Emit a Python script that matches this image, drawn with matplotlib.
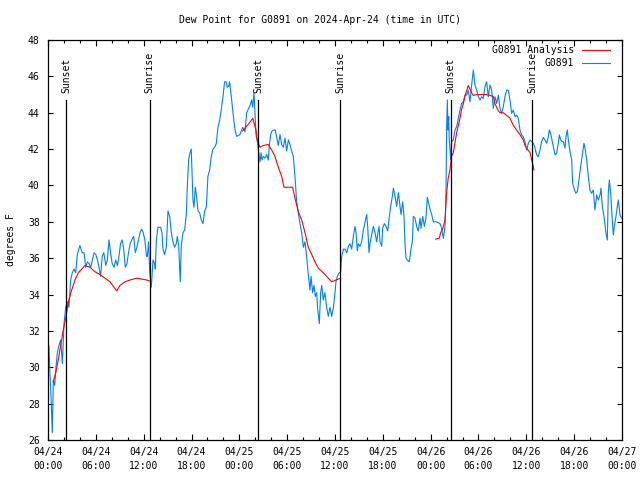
import matplotlib
matplotlib.use("Agg")
import matplotlib.pyplot as plt
import matplotlib.transforms as mtransforms

# hours since 2024-04-24 00:00 UTC
obs_hours = [0.0, 0.12, 0.25, 0.42, 0.54, 0.67, 0.84, 1.0, 1.17, 1.38, 1.59, 1.80, 2.01, 2.22, 2.43, 2.63,
             2.84, 3.05, 3.26, 3.47, 3.68, 4.0, 4.3, 4.52, 4.73, 4.94, 5.15, 5.36, 5.57, 5.78, 6.0, 6.2,
             6.4, 6.6, 6.8, 7.0, 7.25, 7.45, 7.65, 7.85, 8.05, 8.3, 8.5, 8.7, 8.9, 9.1, 9.3, 9.5, 9.7,
             9.9, 10.1, 10.3, 10.5, 10.75, 10.95, 11.15, 11.35, 11.55, 11.75, 11.95, 12.15, 12.35, 12.46,
             12.62, 12.75, 12.96, 13.17, 13.38, 13.46, 13.59, 13.79, 14.13, 14.3, 14.42, 14.63, 14.84,
             15.05, 15.26, 15.47, 15.68, 15.88, 16.09, 16.22, 16.39, 16.51, 16.59, 16.72, 16.93, 17.14,
             17.35, 17.47, 17.64, 17.81, 17.97, 18.06, 18.18, 18.31, 18.48, 18.64, 18.81, 19.02, 19.23,
             19.44, 19.65, 19.86, 20.06, 20.27, 20.48, 20.69, 20.9, 21.11, 21.32, 21.53, 21.74, 21.95,
             22.15, 22.36, 22.49, 22.66, 22.78, 23.04, 23.25, 23.46, 23.67, 24.08, 24.42, 24.71, 24.92,
             25.13, 25.34, 25.55, 25.67, 25.84, 25.97, 26.09, 26.26, 26.38, 26.59, 26.72, 26.84, 27.01,
             27.22, 27.43, 27.64, 27.76, 27.93, 28.1, 28.35, 28.51, 28.68, 28.89, 29.1, 29.31, 29.52,
             29.73, 29.94, 30.15, 30.35, 30.56, 30.77, 30.98, 31.19, 31.4, 31.61, 31.82, 32.03, 32.24,
             32.44, 32.65, 32.86, 32.99, 33.2, 33.36, 33.53, 33.7, 33.82, 34.03, 34.2, 34.33, 34.53,
             34.74, 34.95, 35.16, 35.37, 35.58, 35.79, 36.0, 36.12, 36.29, 36.54, 36.71, 36.84, 37.05,
             37.26, 37.47, 37.68, 37.88, 38.09, 38.3, 38.51, 38.64, 38.8, 38.93, 39.14, 39.35, 39.56,
             39.77, 39.97, 40.1, 40.27, 40.39, 40.6, 40.81, 41.02, 41.23, 41.35, 41.52, 41.65, 41.86,
             41.98, 42.19, 42.4, 42.61, 42.82, 42.98, 43.19, 43.32, 43.53, 43.74, 43.95, 44.15, 44.28,
             44.49, 44.66, 44.78, 44.91, 45.07, 45.32, 45.53, 45.7, 45.83, 46.04, 46.24, 46.45, 46.66,
             46.79, 47.0, 47.21, 47.41, 47.58, 47.75, 47.92, 48.13, 48.33, 48.54, 48.75, 49.17, 49.38,
             49.59, 49.8, 49.92, 50.0, 50.09, 50.17, 50.26, 50.34, 50.51, 50.63, 50.84, 51.05, 51.26,
             51.47, 51.68, 51.89, 52.1, 52.3, 52.51, 52.72, 52.93, 53.14, 53.35, 53.56, 53.77, 53.98,
             54.19, 54.4, 54.6, 54.81, 55.02, 55.23, 55.44, 55.65, 55.86, 56.07, 56.28, 56.49, 56.7,
             56.9, 57.11, 57.32, 57.53, 57.74, 57.95, 58.16, 58.37, 58.58, 58.78, 58.99, 59.2, 59.41,
             59.62, 59.83, 60.04, 60.25, 60.46, 60.67, 60.88, 61.09, 61.3, 61.5, 61.71, 61.92, 62.13,
             62.34, 62.55, 62.76, 62.88, 63.05, 63.18, 63.39, 63.6, 63.8, 64.01, 64.14, 64.31, 64.51,
             64.64, 64.85, 64.97, 65.14, 65.27, 65.48, 65.69, 65.81, 65.98, 66.19, 66.4, 66.6, 66.81,
             67.02, 67.23, 67.4, 67.57, 67.78, 67.98, 68.19, 68.4, 68.61, 68.82, 69.03, 69.24, 69.36,
             69.53, 69.74, 69.87, 69.99, 70.16, 70.28, 70.41, 70.58, 70.74, 70.91, 71.04, 71.24, 71.41,
             71.54, 71.75, 71.95]
obs_dewpt = [29.6, 31.2, 29.6, 27.9, 26.4, 29.3, 29.0, 30.0, 30.8, 31.2, 31.5, 30.2, 32.4, 33.3, 33.6, 33.3,
             34.8, 35.2, 35.4, 35.2, 36.2, 36.7, 36.3, 36.3, 35.5, 35.8, 35.7, 35.5, 35.9, 36.3, 36.2, 35.9,
             35.5, 35.0, 36.1, 36.3, 35.6, 35.9, 37.0, 36.3, 35.7, 35.5, 35.9, 35.6, 36.1, 36.8, 37.0, 36.5, 35.5,
             35.7, 36.3, 36.8, 37.0, 37.2, 36.3, 36.6, 37.0, 37.4, 37.6, 37.4, 37.0, 36.1, 36.1,
             36.9, 35.3, 34.4, 35.9, 35.7, 35.4, 37.0, 37.7, 37.7, 37.4, 36.5, 36.2, 36.6,
             38.6, 38.3, 37.4, 36.9, 36.6, 36.8, 37.2, 36.7, 35.5, 34.7, 36.7, 37.4, 37.55,
             38.4, 39.9, 41.4, 41.8, 42.0, 40.85, 39.2, 38.8, 39.9, 39.4, 38.6, 38.5, 38.1,
             37.9, 38.6, 38.8, 40.5, 40.85, 41.6, 42.0, 42.1, 42.3, 43.2, 43.6, 44.2, 44.9,
             45.7, 45.7, 45.4, 45.45, 45.7, 44.7, 43.8, 43.05, 42.7, 42.8, 43.2, 42.95, 44.0,
             44.2, 44.4, 44.7, 44.3, 45.1, 43.9, 42.8, 42.4, 42.0, 41.3, 41.8, 41.4, 41.6,
             41.5, 41.7, 41.4, 42.2, 42.8, 43.0, 43.05, 43.05, 42.65, 42.2, 42.8, 42.25, 42.1,
             42.6, 41.9, 42.5, 42.25, 41.9, 41.6, 40.5, 39.1, 38.5, 37.9, 37.4, 36.6, 36.9,
             36.1, 35.1, 34.25, 35.0, 34.1, 34.5, 33.9, 34.1, 33.25, 32.4, 34.1, 34.5, 33.7,
             34.1, 33.3, 32.8, 33.3, 32.8, 33.25, 34.1, 34.7, 35.0, 35.2, 35.25, 36.1, 36.5,
             36.5, 36.3, 36.65, 36.8, 36.5, 37.2, 37.75, 37.4, 36.4, 36.8, 36.65, 36.9, 37.55,
             38.0, 38.4, 37.75, 36.3, 36.8, 37.3, 37.75, 37.4, 36.9, 37.3, 37.75, 36.9, 36.65,
             37.65, 37.9, 37.75, 37.5, 38.3, 38.85, 39.4, 39.85, 39.4, 38.85, 39.6, 38.9, 38.4,
             39.1, 38.3, 36.8, 36.0, 35.9, 35.8, 36.5, 36.9, 38.3, 38.2, 37.75, 37.5, 38.2,
             37.65, 38.3, 37.75, 38.2, 39.35, 39.0, 38.7, 38.4, 38.0, 38.0, 38.0, 37.9, 37.64,
             37.09, 37.73, 39.48, 43.05, 44.7, 43.05, 43.78, 42.5, 41.4, 42.41, 42.5, 43.05, 43.23,
             43.69, 44.15, 44.51, 44.6, 44.97, 44.97, 45.24, 44.6, 45.52, 46.35, 45.52, 45.24, 44.88,
             44.7, 44.88, 44.79, 45.43, 45.7, 44.88, 45.52, 45.24, 44.24, 44.88, 44.51, 44.97, 44.24,
             43.96, 44.33, 44.88, 45.24, 45.24, 44.7, 43.96, 44.15, 43.78, 43.87, 43.69, 43.05, 42.77,
             42.68, 42.41, 41.95, 42.32, 42.5, 42.41, 42.32, 42.05, 41.68, 41.58, 41.95, 42.41, 42.64,
             42.5, 42.32, 42.68, 43.05, 42.87, 42.59, 42.14, 41.68, 41.77, 42.32, 42.78, 42.5, 42.41,
             42.41, 42.05, 42.68, 43.05, 42.5, 41.86, 41.4, 40.12, 39.85, 39.57, 39.66, 40.3, 41.03,
             41.68, 42.32, 41.95, 41.4, 40.48, 39.75, 39.57, 39.75, 38.65, 39.48, 39.2, 39.48, 39.85,
             38.84, 38.29, 37.83, 37.37, 37.0, 39.57, 40.3, 39.57, 38.38, 37.28, 37.74, 38.29, 38.84,
             39.2, 38.38, 38.2]

# analysis segments (hours since 2024-04-24 00:00 UTC)
ana1_hours = [0.67, 1.0, 1.29, 1.59, 1.92, 2.26, 2.55, 2.97, 3.39, 3.8, 4.23, 4.64, 5.27, 5.9, 6.52,
              7.15, 7.78, 8.28, 8.62, 9.03, 9.66, 10.29, 11.13, 11.75, 12.38, 12.7]
ana1_dewpt = [29.2, 29.75, 30.4, 31.2, 32.05, 32.8, 33.6, 34.25, 34.8, 35.2, 35.4, 35.6, 35.5, 35.25, 35.1,
              34.9, 34.7, 34.4, 34.2, 34.5, 34.7, 34.8, 34.9, 34.85, 34.8, 34.75]
ana2_hours = [24.4, 25.2, 25.68, 26.09, 26.25, 26.59, 27.0, 27.63, 28.06, 28.47, 28.89, 29.31, 29.6, 30.14,
              30.69, 30.98, 31.4, 31.82, 32.24, 32.65, 33.08, 33.49, 33.91, 34.53, 35.16, 35.59, 36.13, 36.72]
ana2_dewpt = [43.0, 43.4, 43.7, 43.05, 42.5, 42.1, 42.2, 42.25, 41.95, 41.6, 41.0, 40.5, 39.9, 39.9,
              39.9, 39.3, 38.55, 38.1, 37.4, 36.6, 36.2, 35.8, 35.45, 35.2, 34.9, 34.7, 34.8, 34.9]
ana3_hours = [48.63, 49.09, 49.25, 49.5, 49.8, 50.0, 50.2, 50.4, 50.63, 50.84, 51.05, 51.26, 51.47, 51.68,
              51.89, 52.1, 52.3, 52.51, 52.72, 52.93, 53.14, 53.35, 53.77, 54.19, 54.6, 55.02, 55.44,
              55.86, 56.07, 56.28, 56.49, 56.7, 57.11, 57.53, 57.95, 58.37, 58.78, 59.2, 59.62, 59.83,
              60.12, 60.46, 60.79, 60.96]
ana3_dewpt = [37.05, 37.1, 37.4, 37.6, 38.1, 39.6, 40.4, 40.8, 41.6, 41.8, 42.35, 42.9, 43.3, 43.7,
              44.2, 44.5, 44.9, 45.2, 45.5, 45.3, 45.1, 44.95, 45.0, 45.0, 45.0, 45.0, 44.95,
              44.9, 44.5, 44.3, 44.1, 44.0, 44.0, 43.85, 43.7, 43.3, 43.05, 42.8, 42.5, 42.2,
              42.0, 41.8, 41.2, 40.85]

sun_events = ["Sunset", "Sunrise", "Sunset", "Sunrise", "Sunset", "Sunrise"]
sun_hours = [2.3, 12.75, 26.38, 36.67, 50.5, 60.75]

xtick_hours = [0, 6, 12, 18, 24, 30, 36, 42, 48, 54, 60, 66, 72]
xtick_labels = ["04/24\n00:00", "04/24\n06:00", "04/24\n12:00", "04/24\n18:00",
                "04/25\n00:00", "04/25\n06:00", "04/25\n12:00", "04/25\n18:00",
                "04/26\n00:00", "04/26\n06:00", "04/26\n12:00", "04/26\n18:00",
                "04/27\n00:00"]
yticks = [26, 28, 30, 32, 34, 36, 38, 40, 42, 44, 46, 48]

FONT = "DejaVu Sans Mono"
FS = 7
plt.rcParams['font.family'] = [FONT]

fig = plt.figure(figsize=(6.4, 4.8), dpi=100)
ax = fig.add_axes([48/640, 40/480, 574/640, 400/480])

blue = '#0080ff'
red = '#ff0000'

ax.plot(obs_hours, obs_dewpt, color=blue, lw=0.8, zorder=2)
for hh, vv in [(ana1_hours, ana1_dewpt), (ana2_hours, ana2_dewpt), (ana3_hours, ana3_dewpt)]:
    ax.plot(hh, vv, color=red, lw=0.8, zorder=3)

trans = mtransforms.blended_transform_factory(ax.transData, ax.transAxes)
for name, t in zip(sun_events, sun_hours):
    ax.axvline(t, ymin=0, ymax=0.85, color='black', lw=0.9, zorder=4)
    ax.text(t, 0.868, name, transform=trans, rotation=90, ha='center', va='bottom',
            fontsize=FS, family=FONT)

ax.set_xlim(0, 72)
ax.set_ylim(26, 48)
ax.set_xticks(xtick_hours)
ax.set_xticklabels(xtick_labels, fontsize=FS, linespacing=1.45)
ax.set_xticks(list(range(0, 73, 2)), minor=True)
ax.set_yticks(yticks)
ax.set_yticklabels([str(v) for v in yticks], fontsize=FS)
ax.tick_params(axis='x', which='major', direction='in', length=4.3, width=0.8, top=True, pad=5)
ax.tick_params(axis='x', which='minor', direction='in', length=2.2, width=0.8, top=True)
ax.tick_params(axis='y', which='major', direction='in', length=3.3, width=0.8, right=True, pad=6)
for s in ax.spines.values():
    s.set_linewidth(0.9)

ax.set_ylabel("degrees F", fontsize=FS)
ax.yaxis.set_label_coords(-0.056, 0.5)
fig.text(0.5, 1 - 20/480, "Dew Point for G0891 on 2024-Apr-24 (time in UTC)",
         ha='center', va='center', fontsize=FS, family=FONT)

# key (top-right, text right-aligned before line sample)
ax.text(0.916, 0.975, "G0891 Analysis", transform=ax.transAxes, ha='right', va='center', fontsize=FS)
ax.plot([0.93, 0.979], [0.975, 0.975], transform=ax.transAxes, color=red, lw=0.8, clip_on=False)
ax.text(0.916, 0.943, "G0891", transform=ax.transAxes, ha='right', va='center', fontsize=FS)
ax.plot([0.93, 0.979], [0.943, 0.943], transform=ax.transAxes, color=blue, lw=0.8, clip_on=False)

fig.savefig("out.png", dpi=100)
